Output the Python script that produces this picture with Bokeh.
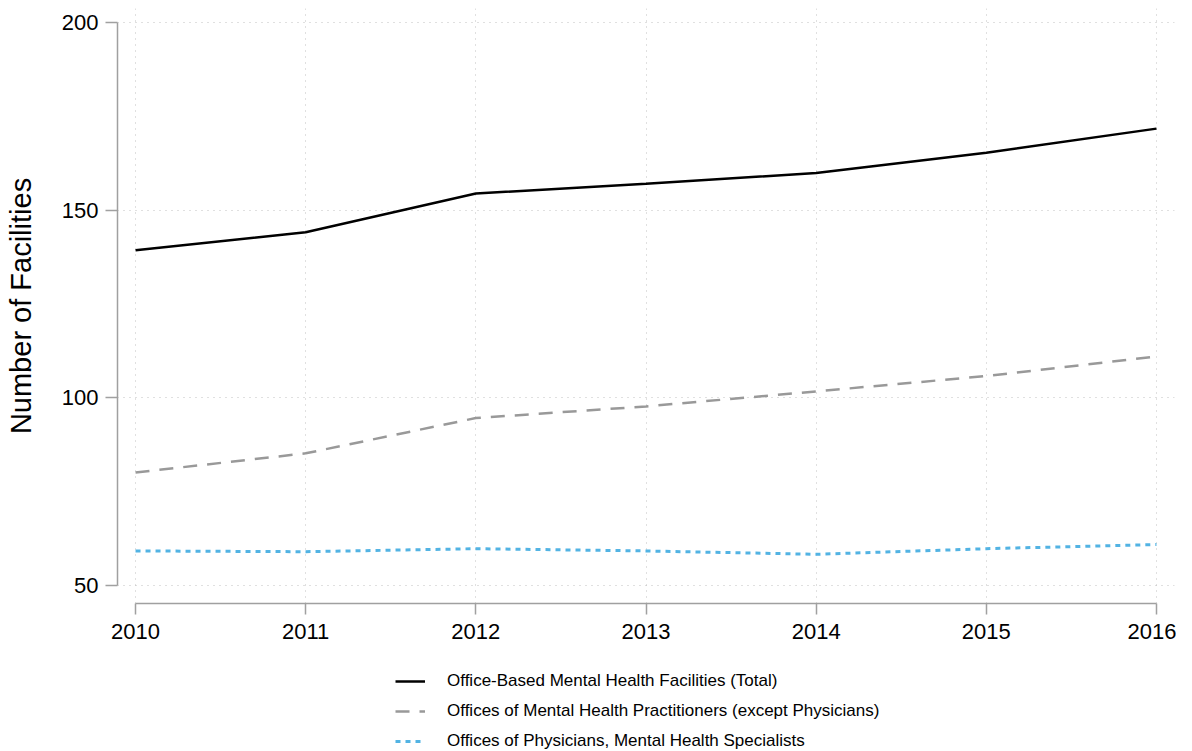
from bokeh.plotting import figure
from bokeh.layouts import column
from bokeh.models import Legend, LegendItem, FixedTicker, Range1d
from bokeh.embed import file_html
from bokeh.resources import INLINE

years = [2010, 2011, 2012, 2013, 2014, 2015, 2016]
total = [139.3, 144.1, 154.4, 157.0, 159.9, 165.3, 171.7]
practitioners = [80.1, 85.2, 94.6, 97.7, 101.7, 105.8, 111.0]
physicians = [59.2, 59.0, 59.8, 59.2, 58.3, 59.8, 60.9]
labels = ["Office-Based Mental Health Facilities (Total)",
          "Offices of Mental Health Practitioners (except Physicians)",
          "Offices of Physicians, Mental Health Specialists"]
y_ticks = [50, 100, 150, 200]

FONT = "Liberation Sans"
styles = [dict(line_color="black", line_width=2.5),
          dict(line_color="#999999", line_width=2.5, line_dash="14 10"),
          dict(line_color="#52b3e3", line_width=3, line_dash="5 5")]
series_list = [total, practitioners, physicians]

p = figure(width=1176, height=651, output_backend="svg", toolbar_location=None,
           x_range=(2009.894, 2016.106), y_range=(45.2, 203.7))
p.min_border_left = 117
p.min_border_right = 2
p.min_border_top = 8
p.min_border_bottom = 48
p.outline_line_color = None

for series, st in zip(series_list, styles):
    p.line(years, series, **st)

for g in (p.xgrid, p.ygrid):
    g.grid_line_color = "#c0c0c0"
    g.grid_line_dash = "1 5"
    g.grid_line_width = 1

p.xaxis.ticker = FixedTicker(ticks=years)
p.yaxis.ticker = FixedTicker(ticks=y_ticks)
p.xaxis.bounds = (2010, 2016)
p.yaxis.bounds = (50, 200)

for ax in (p.xaxis, p.yaxis):
    ax.axis_line_color = "#a0a0a0"
    ax.axis_line_width = 1.5
    ax.major_tick_line_color = "#a0a0a0"
    ax.major_tick_line_width = 1.5
    ax.minor_tick_line_color = None
    ax.major_tick_in = 0
    ax.major_label_text_font = FONT
    ax.major_label_text_font_size = "22px"
    ax.major_label_text_color = "black"

p.xaxis.major_tick_out = 11
p.yaxis.major_tick_out = 12
p.xaxis.major_label_standoff = 9
p.yaxis.major_label_standoff = 7
p.yaxis.major_label_orientation = "horizontal"

p.yaxis.axis_label = "Number of Facilities"
p.yaxis.axis_label_text_font = FONT
p.yaxis.axis_label_text_font_size = "29px"
p.yaxis.axis_label_text_font_style = "normal"
p.yaxis.axis_label_text_color = "black"
p.yaxis.axis_label_standoff = 22

# legend strip below the chart (helper glyphs fall outside its ranges)
lf = figure(width=1176, height=100, output_backend="svg", toolbar_location=None,
            x_range=p.x_range, y_range=Range1d(0, 1))
lf.axis.visible = False
lf.grid.visible = False
lf.outline_line_color = None
lf.min_border_left = 117
lf.min_border_right = 2
lf.min_border_top = 0
lf.min_border_bottom = 0

rs = [lf.line(years, series, **st) for series, st in zip(series_list, styles)]
legend = Legend(items=[LegendItem(label=lab, renderers=[r]) for lab, r in zip(labels, rs)],
                location=(278, 0), orientation="vertical")
legend.border_line_color = None
legend.background_fill_alpha = 0
legend.label_text_font = FONT
legend.label_text_font_size = "17px"
legend.label_text_color = "black"
legend.glyph_width = 30
legend.glyph_height = 20
legend.label_height = 20
legend.spacing = 10
legend.padding = 0
legend.margin = 0
legend.label_standoff = 22
lf.add_layout(legend, "center")

layout = column(p, lf, spacing=0)
open("out.html", "w").write(file_html(layout, INLINE))
